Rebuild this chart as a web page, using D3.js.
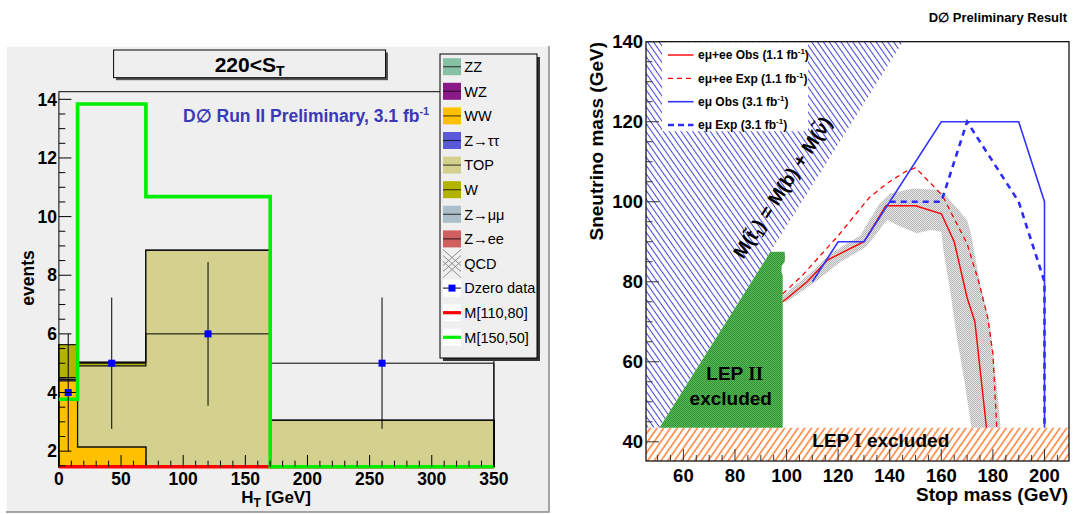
<!DOCTYPE html>
<html><head><meta charset="utf-8">
<script src="https://cdn.jsdelivr.net/npm/d3@7"></script>
<style>body{margin:0;background:#fff} svg{display:block} text{font-family:"Liberation Sans",Arial,Helvetica,sans-serif}</style>
</head><body><svg id="c" width="1073" height="514"></svg>
<script>
// ================= LEFT PANEL DATA =================
const binEdges = [0, 15, 70, 170, 350];
const zzVals   = [0.02, 0.03, 0.05, 0.04];
const wzVals   = [0.03, 0.04, 0.08, 0.05];
const wwVals   = [4.35, 2.07, 0.47, 0.36];
const zttVals  = [0.05, 0.00, 0.03, 0.00];
const topVals  = [0.06, 2.77, 8.22, 2.60];
const wVals    = [1.12, 0.12, 0.00, 0.00];
const zmmVals  = [0, 0, 0, 0];
const zeeVals  = [0, 0, 0, 0];
const qcdVals  = [0, 0, 0, 0];
const dataCounts = [4, 5, 6, 5];
const dataErr    = [2.0, 2.24, 2.45, 2.24];
const sig110_80  = [1.2, 1.3, 1.4, 1.0];
const sig150_50  = [3.77, 13.84, 10.68, 1.0];
const leftYTicks = [2, 4, 6, 8, 10, 12, 14];
const leftXTicks = [0, 50, 100, 150, 200, 250, 300, 350];
const legendLabels = ["ZZ","WZ","WW","Z\u2192\u03c4\u03c4","TOP","W","Z\u2192\u03bc\u03bc","Z\u2192ee","QCD","Dzero data","M[110,80]","M[150,50]"];
const stackColors = ["#86c1a6","#8b1a89","#ffc000","#5a5ad8","#d4d08e","#b2b200","#acbec8","#d05f5f"];

// ================= RIGHT PANEL DATA =================
const rightXTicks = [60, 80, 100, 120, 140, 160, 180, 200];
const rightYTicks = [40, 60, 80, 100, 120, 140];
const emeeObs = [[98.5,75],[108,80],[116,85.5],[130,90],[138.5,99],[150,99],[160,97],[165,90],[170,76],[173,70],[177.5,43.5]];
const emeeExp = [[98.5,77],[106,81.5],[120,91.5],[132,101],[139,104.6],[146,107.5],[150,108.5],[160.5,101.5],[164,97],[170,89.5],[174.5,80],[178,71],[180,62],[181.5,43.5]];
const emuObs = [[110,80],[120,90],[130,90],[160,120],[190,120],[200,100],[200,43.5]];
const emuExp = [[140,100],[160,100],[170,120],[190,100],[200,80],[200,43.5]];
const bandUpper = [[98.5,76.5],[108,81.5],[117,87],[128.5,91.5],[136,99.5],[140,102],[149,103.3],[158,103],[161.5,101.7],[166,98.5],[170,95.4],[171.5,92],[175,79.6],[178.8,69.6],[181.4,54.6],[183,43.5]];
const bandLower = [[171.7,43.5],[169.1,54.6],[166,66.2],[163.4,77.9],[160.8,87.9],[160,92.5],[156,93],[150.5,92.1],[142.8,94.2],[139,95.5],[135,92.1],[131,88.8],[121,85],[110.4,79.6],[100,75],[98.5,75]];
const lep2Region = [[50.7,43.5],[93.75,87.5],[99.2,87.5],[99.4,86.5],[99.3,85],[98.1,84],[98.0,82.5],[98.5,81.5],[98.5,43.5]];
const kinLimit = [[50.7,43.5],[145.1,140]];
const lep1Limit = 43.5;
const rightLegend = ["e\u03bc+ee Obs (1.1 fb","e\u03bc+ee Exp (1.1 fb","e\u03bc Obs (3.1 fb","e\u03bc Exp (3.1 fb"];

// ================= SETUP =================
const svg = d3.select("#c");
const defs = svg.append("defs");
function hatch(id, spacing, angle, color, width) {
  const p = defs.append("pattern").attr("id", id).attr("patternUnits","userSpaceOnUse")
    .attr("width", spacing).attr("height", 10).attr("patternTransform", `rotate(${angle})`);
  p.append("rect").attr("width", spacing).attr("height", 10).attr("fill", "#fff");
  p.append("line").attr("x1", spacing/2).attr("x2", spacing/2).attr("y1", 0).attr("y2", 10)
    .attr("stroke", color).attr("stroke-width", width);
}
hatch("blueHatch", 4.8, -35, "#4646dc", 1.05);
hatch("orangeHatch", 5.5, 35, "#ff6a14", 1.3);
function checker(id, bg, fg) {
  const p = defs.append("pattern").attr("id", id).attr("patternUnits","userSpaceOnUse").attr("width", 2).attr("height", 2);
  p.append("rect").attr("width", 2).attr("height", 2).attr("fill", bg);
  p.append("rect").attr("width", 1).attr("height", 1).attr("fill", fg);
  p.append("rect").attr("x", 1).attr("y", 1).attr("width", 1).attr("height", 1).attr("fill", fg);
}
checker("greenChk", "#5cb85c", "#2e932e");
checker("grayChk", "#e8e8e8", "#b4b4b4");

// ================= LEFT PANEL =================
const padBg = "#efefef";
const L = svg.append("g");
L.append("rect").attr("x", 6).attr("y", 46).attr("width", 543).attr("height", 466).attr("fill", padBg);
L.append("path").attr("d", "M6,512V46H549").attr("fill","none").attr("stroke","#fff").attr("stroke-width",1.5);
L.append("path").attr("d", "M549,46V512H6").attr("fill","none").attr("stroke","#8a8a8a").attr("stroke-width",1.5);

const xL = d3.scaleLinear().domain([0, 350]).range([58.9, 493.9]);
const yL = d3.scaleLinear().domain([1.47, 14.26]).range([466.7, 91.7]).clamp(true);

function stepPath(vals, closeBottom) {
  const p = d3.path();
  const y0 = yL.range()[0];
  if (closeBottom) { p.moveTo(xL(binEdges[0]), y0); p.lineTo(xL(binEdges[0]), yL(vals[0])); }
  else p.moveTo(xL(binEdges[0]), yL(vals[0]));
  vals.forEach((v, i) => { p.lineTo(xL(binEdges[i]), yL(v)); p.lineTo(xL(binEdges[i+1]), yL(v)); });
  if (closeBottom) { p.lineTo(xL(binEdges[binEdges.length-1]), y0); p.closePath(); }
  return p.toString();
}

const layers = [zzVals, wzVals, wwVals, zttVals, topVals, wVals, zmmVals, zeeVals];
const cum = [];
let run = [0,0,0,0];
layers.forEach(l => { run = run.map((r, i) => r + l[i]); cum.push(run.slice()); });
for (let k = cum.length - 1; k >= 0; k--) {
  L.append("path").attr("d", stepPath(cum[k], true)).attr("fill", stackColors[k])
    .attr("stroke", "#111").attr("stroke-width", 1.2);
}
// data histogram outline
L.append("path").attr("d", stepPath(dataCounts, true)).attr("fill", "none").attr("stroke", "#000").attr("stroke-width", 1);

// frame
L.append("rect").attr("x", xL(0)).attr("y", 91.7).attr("width", xL(350)-xL(0)).attr("height", 466.7-91.7)
  .attr("fill","none").attr("stroke","#000").attr("stroke-width",1);

// signals (drawn over the frame)
L.append("path").attr("d", stepPath(sig110_80, false)).attr("fill","none").attr("stroke","#ff0000").attr("stroke-width",3.4);
L.append("path").attr("d", stepPath(sig150_50, false)).attr("fill","none").attr("stroke","#00ee00").attr("stroke-width",3.6);

// data points
dataCounts.forEach((d, i) => {
  const cx = xL((binEdges[i] + binEdges[i+1]) / 2);
  L.append("line").attr("x1", cx).attr("x2", cx).attr("y1", yL(d - dataErr[i])).attr("y2", yL(d + dataErr[i]))
    .attr("stroke", "#000").attr("stroke-width", 1);
  L.append("rect").attr("x", cx - 3.5).attr("y", yL(d) - 3.5).attr("width", 7).attr("height", 7).attr("fill", "#0000ff");
});

// ticks
for (let v = 1.5; v <= 14.01; v += 0.5) {
  const major = leftYTicks.includes(v);
  L.append("line").attr("x1", xL(0)).attr("x2", xL(0) + (major ? 12.5 : 6.4)).attr("y1", yL(v)).attr("y2", yL(v))
    .attr("stroke","#000").attr("stroke-width",1);
}
for (let v = 0; v <= 350; v += 10) {
  const major = leftXTicks.includes(v);
  L.append("line").attr("x1", xL(v)).attr("x2", xL(v)).attr("y1", 466.7).attr("y2", 466.7 - (major ? 11.7 : 6))
    .attr("stroke","#000").attr("stroke-width",1);
}
leftYTicks.forEach(v => L.append("text").attr("x", 57).attr("y", yL(v) + 6.2).attr("text-anchor","end")
  .attr("font-size", 17.5).attr("font-weight","bold").text(v));
leftXTicks.forEach(v => L.append("text").attr("x", xL(v)).attr("y", 484.5).attr("text-anchor","middle")
  .attr("font-size", 17.5).attr("font-weight","bold").text(v));

// axis titles
L.append("text").attr("transform","translate(34,278) rotate(-90)").attr("text-anchor","middle")
  .attr("font-size", 17.5).attr("font-weight","bold").text("events");
const ht = L.append("text").attr("x", 276).attr("y", 503).attr("text-anchor","middle").attr("font-size", 17).attr("font-weight","bold");
ht.append("tspan").text("H");
ht.append("tspan").attr("font-size", 12).attr("dy", 4).text("T");
ht.append("tspan").attr("dy", -4).text(" [GeV]");

// title box
L.append("rect").attr("x", 116).attr("y", 52.5).attr("width", 272).attr("height", 27.7).attr("fill","#555");
L.append("rect").attr("x", 113.6).attr("y", 50).attr("width", 272).attr("height", 27.7).attr("fill", padBg).attr("stroke","#000").attr("stroke-width",1);
const tt = L.append("text").attr("x", 249.6).attr("y", 71.5).attr("text-anchor","middle").attr("font-size", 21).attr("font-weight","bold");
tt.append("tspan").text("220<S");
tt.append("tspan").attr("font-size", 14).attr("dy", 4).text("T");

// preliminary label
const pl = L.append("text").attr("x", 183).attr("y", 121.5).attr("font-size", 17.5).attr("font-weight","bold").attr("fill","#3a3ab8");
pl.append("tspan").text("D\u2205 Run II Preliminary, 3.1 fb");
pl.append("tspan").attr("font-size", 11).attr("dy", -7).text("-1");

// legend
L.append("rect").attr("x", 443).attr("y", 57).attr("width", 97).attr("height", 304).attr("fill","#333");
L.append("rect").attr("x", 440).attr("y", 54).attr("width", 97).attr("height", 304).attr("fill", padBg).attr("stroke","#000").attr("stroke-width",1);
legendLabels.forEach((lab, i) => {
  const cy = 66.7 + i * 24.6;
  const g = L.append("g");
  if (i < 8) {
    g.append("rect").attr("x", 443).attr("y", cy - 8.5).attr("width", 18).attr("height", 17).attr("fill", stackColors[i]);
    g.append("line").attr("x1", 443).attr("x2", 461).attr("y1", cy).attr("y2", cy).attr("stroke","#000").attr("stroke-opacity",0.65).attr("stroke-width",1.2);
  } else if (i === 8) {
    for (let k = -1; k <= 1; k++) {
      g.append("line").attr("x1", 443).attr("y1", cy - 8 + k*6).attr("x2", 461).attr("y2", cy + 8 + k*6).attr("stroke","#777").attr("stroke-width",0.8);
      g.append("line").attr("x1", 443).attr("y1", cy + 8 + k*6).attr("x2", 461).attr("y2", cy - 8 + k*6).attr("stroke","#777").attr("stroke-width",0.8);
    }
  } else {
    g.append("rect").attr("x", 443).attr("y", cy - 8.5).attr("width", 18).attr("height", 17).attr("fill", "#fff");
    if (i === 9) {
      g.append("line").attr("x1", 443).attr("x2", 461).attr("y1", cy).attr("y2", cy).attr("stroke","#000").attr("stroke-width",1);
      g.append("rect").attr("x", 448.5).attr("y", cy - 3.5).attr("width", 7).attr("height", 7).attr("fill","#0000ff");
    } else {
      g.append("line").attr("x1", 443).attr("x2", 461).attr("y1", cy).attr("y2", cy).attr("stroke", i === 10 ? "#ff0000" : "#00ee00").attr("stroke-width",3.2);
    }
  }
  L.append("text").attr("x", 464.3).attr("y", cy + 5.2).attr("font-size", 14.5).text(lab);
});

// ================= RIGHT PANEL =================
const R = svg.append("g");
const xR = d3.scaleLinear().domain([45.5, 209.5]).range([646, 1069]);
const yR = d3.scaleLinear().domain([35.2, 140]).range([461, 41.7]);
const lineR = d3.line().x(d => xR(d[0])).y(d => yR(d[1]));

// kinematically forbidden (blue hatch)
const kinPoly = [[45.5, lep1Limit], [45.5, 140], kinLimit[1], kinLimit[0]];
R.append("path").attr("d", lineR(kinPoly) + "Z").attr("fill","url(#blueHatch)");
// LEP I
R.append("path").attr("d", lineR([[45.5,35.2],[45.5,lep1Limit],[209.5,lep1Limit],[209.5,35.2]]) + "Z").attr("fill","url(#orangeHatch)");
// LEP II
R.append("path").attr("d", lineR(lep2Region) + "Z").attr("fill","url(#greenChk)");
// band
R.append("path").attr("d", lineR(bandUpper.concat(bandLower)) + "Z").attr("fill","url(#grayChk)");

// legend background
R.append("rect").attr("x", 662).attr("y", 42.2).attr("width", 146).attr("height", 89).attr("fill","#fff");

// limit curves
R.append("path").attr("d", lineR(emeeExp)).attr("fill","none").attr("stroke","#ff0000").attr("stroke-width",1.3).attr("stroke-dasharray","5,4");
R.append("path").attr("d", lineR(emeeObs)).attr("fill","none").attr("stroke","#ff0000").attr("stroke-width",1.4);
R.append("path").attr("d", lineR(emuExp)).attr("fill","none").attr("stroke","#2b2bff").attr("stroke-width",2.6).attr("stroke-dasharray","6,5");
R.append("path").attr("d", lineR(emuObs)).attr("fill","none").attr("stroke","#3333ff").attr("stroke-width",1.6);

// legend entries
const legStyles = [
  {c:"#ff0000", w:1.4, d:null}, {c:"#ff0000", w:1.3, d:"5,4"},
  {c:"#3333ff", w:1.6, d:null}, {c:"#2b2bff", w:2.6, d:"6,4"}];
const legY = [55, 78.3, 101.7, 125];
rightLegend.forEach((lab, i) => {
  R.append("line").attr("x1", 668).attr("x2", 693.5).attr("y1", legY[i]).attr("y2", legY[i])
    .attr("stroke", legStyles[i].c).attr("stroke-width", legStyles[i].w).attr("stroke-dasharray", legStyles[i].d);
  const t = R.append("text").attr("x", 698).attr("y", legY[i] + 4.3).attr("font-size", 12).attr("font-weight","bold");
  t.append("tspan").text(lab);
  t.append("tspan").attr("font-size", 8).attr("dy", -5).text("-1");
  t.append("tspan").attr("dy", 5).text(")");
});

// texts
const kt = R.append("text").attr("transform","translate(788,191) rotate(-57)").attr("text-anchor","middle")
  .attr("font-size", 19).attr("font-weight","bold");
kt.append("tspan").text("M(t\u0303");
kt.append("tspan").attr("font-size", 12).attr("dy", 4).text("1");
kt.append("tspan").attr("dy", -4).text(") = M(b) + M(\u03bd\u0303)");

const l2 = R.append("text").attr("x", 734.7).attr("y", 380).attr("text-anchor","middle").attr("font-size", 19).attr("font-weight","bold");
l2.append("tspan").text("LEP ");
l2.append("tspan").attr("font-family","'Liberation Serif','Times New Roman',serif").text("II");
R.append("text").attr("x", 730.8).attr("y", 405).attr("text-anchor","middle").attr("font-size", 19).attr("font-weight","bold").text("excluded");
const l1 = R.append("text").attr("x", 880.8).attr("y", 446.7).attr("text-anchor","middle").attr("font-size", 19).attr("font-weight","bold");
l1.append("tspan").text("LEP ");
l1.append("tspan").attr("font-family","'Liberation Serif','Times New Roman',serif").text("I");
l1.append("tspan").text(" excluded");

// frame
R.append("rect").attr("x", 646).attr("y", 41.7).attr("width", 1069-646).attr("height", 461-41.7)
  .attr("fill","none").attr("stroke","#000").attr("stroke-width",1.2);
// ticks
for (let v = 40; v <= 140; v += 5) {
  const major = rightYTicks.includes(v);
  R.append("line").attr("x1", 646).attr("x2", 646 + (major ? 13 : 6.5)).attr("y1", yR(v)).attr("y2", yR(v))
    .attr("stroke","#333").attr("stroke-width",1);
}
for (let v = 50; v <= 205; v += 5) {
  const major = rightXTicks.includes(v);
  R.append("line").attr("x1", xR(v)).attr("x2", xR(v)).attr("y1", 461).attr("y2", 461 - (major ? 12 : 6))
    .attr("stroke","#333").attr("stroke-width",1);
}
rightYTicks.forEach(v => R.append("text").attr("x", 643).attr("y", yR(v) + 6.5).attr("text-anchor","end")
  .attr("font-size", 18.5).attr("font-weight","bold").text(v));
rightXTicks.forEach(v => R.append("text").attr("x", xR(v)).attr("y", 481.7).attr("text-anchor","middle")
  .attr("font-size", 18.5).attr("font-weight","bold").text(v));
R.append("text").attr("transform","translate(603,42) rotate(-90)").attr("text-anchor","end")
  .attr("font-size", 19).attr("font-weight","bold").text("Sneutrino mass (GeV)");
R.append("text").attr("x", 1068).attr("y", 501).attr("text-anchor","end")
  .attr("font-size", 19).attr("font-weight","bold").text("Stop mass (GeV)");
R.append("text").attr("x", 1067).attr("y", 22).attr("text-anchor","end")
  .attr("font-size", 13).attr("font-weight","bold").text("D\u2205 Preliminary Result");
</script></body></html>
